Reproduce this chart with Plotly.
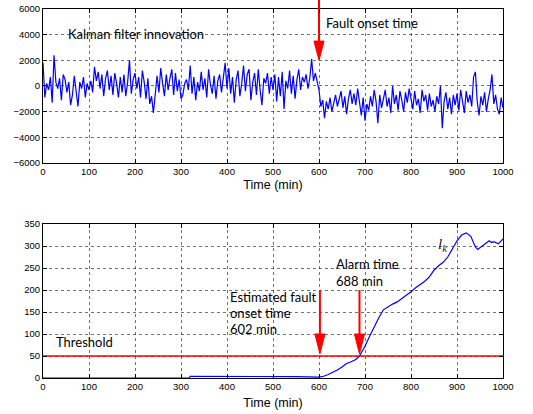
import plotly.graph_objects as go
from plotly.subplots import make_subplots

# ---------------- data ----------------
innov_t = list(range(0, 1001, 4))
innov = [
    1800, -900, 200, -300, 700, -1300, 2400, 300, -200, 600, -1100, 900, 500, -500, 300, -1500, -700, 800, -400, -1600, 300, -200, 700, -900, 200,
    -300, 400, -500, 1500, 400, 1100, -200, 900, -800, 600, 1200, -300, 800, -700, 1000, 200, -900, 700, -500, 900, -800, 300, 2000, -600, 500,
    1000, -200, 700, -900, 1200, 300, -1000, 600, -1400, -800, -2100, -300, 800, -500, 1400, 200, -800, 900, -300, 600, 1300, -700, 1000, -400, 500,
    -1000, -700, 200, 500, -300, 1600, -600, 700, -1100, 300, -400, 1100, -300, 600, -900, 1300, 100, -600, 800, -1000, 400, 900, -500, 600, 1800,
    -200, 1400, -600, 700, -1300, 500, 1200, -800, 200, 1600, -400, 900, 1300, -1100, 300, 1000, -700, 1300, -300, -1500, 600, 200, 1000, -600, 700,
    -300, 900, -1200, 700, -800, 1100, -1800, 400, -200, 1200, -600, 800, -1000, 500, 1300, -300, 700, 300, 900, -200, 600, 2100, 400, 1000, 200,
    -300, -1600, -1100, -2500, -1200, -1800, -900, -2000, -1300, -700, -1600, -1100, -400, -1700, -800, -2200, -1000, -300, -1400, -600, -1500, -200, -1200, -2300, -900,
    -2700, -1400, -1900, -800, -1600, -300, -1200, -2900, -700, -1700, -1000, -300, -1600, -900, -2100, 0, -1400, -700, -1900, -400, -1100, -2000, -500, -1300, -200,
    -900, -1800, -400, -1500, -1000, -2100, -300, -1200, -700, -1900, -600, -1600, -1100, -2000, -800, -1400, 0, -3300, -1200, -500, -1800, -900, -2200, -700, -1500,
    -600, -1900, -300, -1200, -2100, -400, -1300, -700, -1600, 700, 1100, -1200, -2300, -800, -1500, -500, -2000, -1000, -300, 900, -1400, -700, -1800, -2200, -900,
    -1700,
]

# test statistic l_k
lk_t = [0, 318, 320, 360, 400, 450, 500, 550, 600, 610, 620, 630, 640, 650, 660, 670, 680, 688, 695,
        700, 710, 720, 730, 740, 750, 760, 770, 780, 790, 800, 810, 820, 830, 840, 850, 860, 870, 880,
        890, 900, 910, 920, 930, 940, 945, 950, 960, 970, 975, 980, 990, 1000]
lk = [0, 0, 4, 4, 3.5, 3, 3.5, 3, 2, 4, 8, 13, 18, 25, 33, 37, 42, 50, 62,
      72, 95, 118, 137, 155, 162, 168, 173, 180, 187, 196, 205, 212, 220, 230, 245, 255, 263, 275,
      295, 312, 325, 330, 322, 298, 292, 296, 304, 312, 308, 310, 305, 316]

threshold = 50
fault_onset = 600
est_onset = 602
alarm_time = 688

x_range = [0, 1000]
x_ticks = list(range(0, 1001, 100))
y1_ticks = list(range(-6000, 6001, 2000))
y2_ticks = list(range(0, 351, 50))

# ---------------- figure ----------------
RED = "#ff0000"
BLUE = "#0000ff"
TXT = "Lato"

fig = make_subplots(rows=2, cols=1, vertical_spacing=0.1655)

fig.add_trace(go.Scatter(x=innov_t, y=innov, mode="lines",
                         line=dict(color=BLUE, width=1.2)), row=1, col=1)
fig.add_trace(go.Scatter(x=lk_t, y=lk, mode="lines",
                         line=dict(color=BLUE, width=1.2)), row=2, col=1)
fig.add_trace(go.Scatter(x=x_range, y=[threshold, threshold], mode="lines",
                         line=dict(color=RED, width=1.4)), row=2, col=1)

# arrows: shaft + filled triangular head
def arrow(xc, yshaft, ytop, ytip, hw, row):
    fig.add_trace(go.Scatter(x=[xc, xc], y=[yshaft, ytop], mode="lines",
                             line=dict(color=RED, width=2)), row=row, col=1)
    fig.add_trace(go.Scatter(x=[xc - hw, xc + hw, xc, xc - hw],
                             y=[ytop, ytop, ytip, ytop], mode="lines",
                             fill="toself", fillcolor=RED,
                             line=dict(color=RED, width=1)), row=row, col=1)

arrow(fault_onset, 6000, 3500, 2000, 11, 1)
arrow(est_onset, 200, 100, 55, 11, 2)
arrow(alarm_time, 200, 100, 55, 11, 2)

# part of the fault-onset arrow shaft that sticks out above the top panel
fx = (fault_onset - x_range[0]) / (x_range[1] - x_range[0])
fig.add_shape(type="line", xref="paper", yref="paper", x0=fx, x1=fx, y0=1.0, y1=1.03,
              line=dict(color=RED, width=2))

def txt(s, x, y, xr, yr, size=13, font=TXT):
    fig.add_annotation(x=x, y=y, xref=xr, yref=yr, text=s, showarrow=False,
                       xanchor="left", yanchor="middle",
                       font=dict(family=font, size=size, color="black"))

txt("Kalman filter innovation", 50, 4050, "x", "y")
txt("Fault onset time", 611, 4900, "x", "y")
txt("Threshold", 24, 81, "x2", "y2")
txt("Estimated fault", 403, 183, "x2", "y2")
txt("onset time", 403, 147, "x2", "y2")
txt("602 min", 403, 111, "x2", "y2")
txt("Alarm time", 632, 260, "x2", "y2")
txt("688 min", 632, 221, "x2", "y2")
fig.add_annotation(x=855, y=303, xref="x2", yref="y2",
                   text="<i>l</i><sub><i>k</i></sub>", showarrow=False,
                   xanchor="left", yanchor="middle",
                   font=dict(family="Liberation Serif", size=15, color="#222"))

axis_common = dict(showline=True, linecolor="black", linewidth=1, mirror="allticks",
                   ticks="inside", ticklen=4, tickcolor="black", automargin=False,
                   showgrid=True, gridcolor="rgba(0,0,0,0.55)", griddash="dot", gridwidth=1,
                   zeroline=False, tickfont=dict(family="Liberation Sans", size=9.5, color="black"))

for r, so in ((1, 3), (2, 6)):
    fig.update_xaxes(range=x_range, tickvals=x_ticks, row=r, col=1,
                     title=dict(text="Time (min)", standoff=so,
                                font=dict(family="Liberation Sans", size=12.5, color="black")),
                     **axis_common)
fig.update_yaxes(range=[-6000, 6000], tickvals=y1_ticks, row=1, col=1, **axis_common)
fig.update_yaxes(range=[0, 350], tickvals=y2_ticks, row=2, col=1, **axis_common)

fig.update_layout(width=533, height=414, showlegend=False,
                  margin=dict(l=43, r=30, t=9, b=36),
                  paper_bgcolor="white", plot_bgcolor="white")

fig.write_html("out.html", config={"displayModeBar": False},
               post_script="document.body.style.margin='0px';document.body.style.overflow='hidden';")
